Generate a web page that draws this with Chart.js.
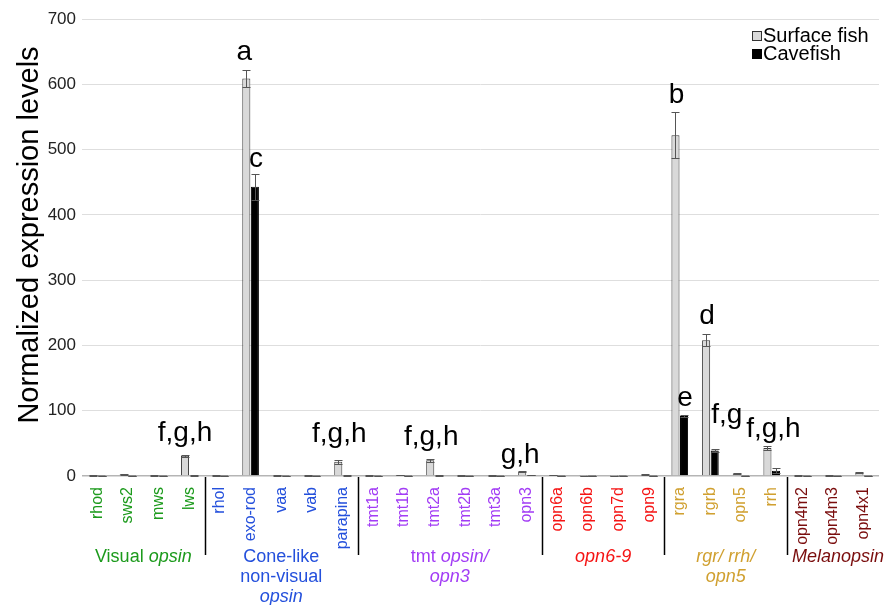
<!DOCTYPE html>
<html>
<head>
<meta charset="utf-8">
<script src="https://cdn.jsdelivr.net/npm/chart.js@4.4.0/dist/chart.umd.min.js"></script>
<style>
  html, body { margin: 0; padding: 0; background: #ffffff; }
  #wrap { width: 886px; height: 605px; }
</style>
</head>
<body>
<div id="wrap"><canvas id="c" width="886" height="605"></canvas></div>
<script>
// Opsin genes, grouped by family along the x axis
const categories = [
  'rhod', 'sws2', 'mws', 'lws',
  'rhol', 'exo-rod', 'vaa', 'vab', 'parapina',
  'tmt1a', 'tmt1b', 'tmt2a', 'tmt2b', 'tmt3a', 'opn3',
  'opn6a', 'opn6b', 'opn7d', 'opn9',
  'rgra', 'rgrb', 'opn5', 'rrh',
  'opn4m2', 'opn4m3', 'opn4x1'
];

// Normalized expression levels (mean) and error (±)
const surfaceFish    = [0.8, 2.5, 1, 31, 0.8, 609, 1, 1, 22, 1, 1.5, 24, 1, 1, 6.5, 1.2, 0.5, 0.5, 2, 522, 208, 4, 43, 1, 1, 5.5];
const surfaceFishErr = [0.3, 0.8, 0.3, 1.5, 0.3, 13, 0.3, 0.3, 3, 0.3, 0.5, 2, 0.3, 0.3, 1, 0.3, 0.2, 0.2, 0.5, 35, 9, 1, 2.5, 0.3, 0.3, 1];
const cavefish       = [0.5, 0.5, 0.5, 1, 0.5, 443, 0.5, 0.5, 1, 0.5, 0.5, 1, 0.5, 0.5, 1.5, 0.5, 0.5, 0.5, 0.5, 92, 39, 0.5, 8, 0.5, 0.5, 0.5];
const cavefishErr    = [0.2, 0.2, 0.2, 0.3, 0.2, 20, 0.2, 0.2, 0.3, 0.2, 0.2, 0.3, 0.2, 0.2, 0.5, 0.2, 0.2, 0.2, 0.2, 1, 2, 0.2, 4, 0.2, 0.2, 0.2];

const yTicks = [0, 100, 200, 300, 400, 500, 600, 700];

// Gene families: index range, colour and (rich) label lines [text, italic]
const groups = [
  { first: 0,  last: 3,  color: '#1c9a1c', lines: [[['Visual ', false], ['opsin', true]]] },
  { first: 4,  last: 8,  color: '#2450dc', lines: [[['Cone-like', false]], [['non-visual', false]], [['opsin', true]]] },
  { first: 9,  last: 14, color: '#a23cf5', lines: [[['tmt ', false], ['opsin/', true]], [['opn3', true]]] },
  { first: 15, last: 18, color: '#f51414', lines: [[['opn6-9', true]]] },
  { first: 19, last: 22, color: '#d0a030', lines: [[['rgr/ rrh/', true]], [['opn5', true]]] },
  { first: 23, last: 25, color: '#7a0d0d', lines: [[['Melanopsin', true]]], shift: 5 }
];

// Significance letters: gene, series (0 surface, 1 cave), text, lift above bar/error top, x shift
const letters = [
  { gene: 'lws',      series: 0, text: 'f,g,h', lift: 14, dx: 0 },
  { gene: 'exo-rod',  series: 0, text: 'a',     lift: 10, dx: -2 },
  { gene: 'exo-rod',  series: 1, text: 'c',     lift: 7,  dx: 1 },
  { gene: 'parapina', series: 0, text: 'f,g,h', lift: 18, dx: 1 },
  { gene: 'tmt2a',    series: 0, text: 'f,g,h', lift: 14, dx: 1 },
  { gene: 'opn3',     series: 0, text: 'g,h',   lift: 8,  dx: -2 },
  { gene: 'rgra',     series: 0, text: 'b',     lift: 9,  dx: 1 },
  { gene: 'rgra',     series: 1, text: 'e',     lift: 9,  dx: 1 },
  { gene: 'rgrb',     series: 0, text: 'd',     lift: 10, dx: 1 },
  { gene: 'rgrb',     series: 1, text: 'f,g',   lift: 26, dx: 12 },
  { gene: 'rrh',      series: 0, text: 'f,g,h', lift: 9,  dx: 6 }
];

const FONT = '"Liberation Sans", Arial, Helvetica, sans-serif';
const errors = [surfaceFishErr, cavefishErr];

function groupColor(i) {
  const g = groups.find(gr => i >= gr.first && i <= gr.last);
  return g ? g.color : '#000';
}

// Error bars with caps
const errorBars = {
  id: 'errorBars',
  afterDatasetsDraw(chart) {
    const ctx = chart.ctx, y = chart.scales.y;
    ctx.save();
    ctx.strokeStyle = '#555';
    ctx.lineWidth = 1;
    chart.data.datasets.forEach((ds, di) => {
      const meta = chart.getDatasetMeta(di);
      meta.data.forEach((bar, i) => {
        const v = ds.data[i], e = errors[di][i];
        const yt = Math.round(y.getPixelForValue(v + e)) + 0.5;
        const yb = Math.round(y.getPixelForValue(Math.max(0, v - e))) + 0.5;
        const x = Math.round(bar.x) + 0.5;
        ctx.beginPath();
        ctx.moveTo(x, yt); ctx.lineTo(x, yb);
        ctx.moveTo(x - 4, yt); ctx.lineTo(x + 4, yt);
        ctx.moveTo(x - 4, yb); ctx.lineTo(x + 4, yb);
        ctx.stroke();
      });
    });
    ctx.restore();
  }
};

// Letters above bars
const sigLetters = {
  id: 'sigLetters',
  afterDatasetsDraw(chart) {
    const ctx = chart.ctx, y = chart.scales.y;
    ctx.save();
    ctx.fillStyle = '#000';
    ctx.font = '28px ' + FONT;
    ctx.textAlign = 'center';
    ctx.textBaseline = 'alphabetic';
    letters.forEach(l => {
      const i = categories.indexOf(l.gene);
      const bar = chart.getDatasetMeta(l.series).data[i];
      const v = chart.data.datasets[l.series].data[i] + errors[l.series][i];
      ctx.fillText(l.text, bar.x + l.dx, y.getPixelForValue(v) - l.lift);
    });
    ctx.restore();
  }
};

// Axis title, family separators and family names below the gene labels
const familyLabels = {
  id: 'familyLabels',
  afterDraw(chart) {
    const ctx = chart.ctx, x = chart.scales.x, area = chart.chartArea;
    const step = x.getPixelForValue(1) - x.getPixelForValue(0);
    ctx.save();
    ctx.translate(30, 235);
    ctx.rotate(-Math.PI / 2);
    ctx.font = '29px ' + FONT;
    ctx.fillStyle = '#000';
    ctx.textAlign = 'center';
    ctx.textBaseline = 'middle';
    ctx.fillText('Normalized expression levels', 0, 0);
    ctx.restore();

    ctx.save();
    ctx.strokeStyle = '#000';
    ctx.lineWidth = 1.5;
    groups.forEach((g, gi) => {
      if (gi > 0) {
        const sx = Math.round(x.getPixelForValue(g.first) - step / 2) + 0.5;
        ctx.beginPath();
        ctx.moveTo(sx, area.bottom + 1);
        ctx.lineTo(sx, area.bottom + 79);
        ctx.stroke();
      }
      const cx = (x.getPixelForValue(g.first) + x.getPixelForValue(g.last)) / 2 + (g.shift || 0);
      ctx.fillStyle = g.color;
      ctx.textBaseline = 'middle';
      ctx.textAlign = 'left';
      g.lines.forEach((line, li) => {
        const fonts = line.map(s => (s[1] ? 'italic ' : '') + '18px ' + FONT);
        let total = 0;
        const widths = line.map((s, si) => { ctx.font = fonts[si]; const w = ctx.measureText(s[0]).width; total += w; return w; });
        let px = cx - total / 2;
        const py = area.bottom + 81 + li * 20;
        line.forEach((s, si) => { ctx.font = fonts[si]; ctx.fillText(s[0], px, py); px += widths[si]; });
      });
    });
    ctx.restore();
  }
};

// Legend in the upper right corner
const cornerLegend = {
  id: 'cornerLegend',
  afterDraw(chart) {
    const ctx = chart.ctx;
    const items = [
      { label: 'Surface fish', fill: '#d9d9d9', stroke: '#333' },
      { label: 'Cavefish', fill: '#000', stroke: '#000' }
    ];
    ctx.save();
    ctx.font = '20px ' + FONT;
    ctx.textBaseline = 'middle';
    ctx.textAlign = 'left';
    items.forEach((it, k) => {
      const ty = 36 + k * 18;
      ctx.fillStyle = it.fill;
      ctx.fillRect(752, ty - 5, 10, 10);
      ctx.strokeStyle = it.stroke;
      ctx.lineWidth = 1;
      ctx.strokeRect(752.5, ty - 4.5, 9, 9);
      ctx.fillStyle = '#000';
      ctx.fillText(it.label, 763, ty);
    });
    ctx.restore();
  }
};

new Chart(document.getElementById('c'), {
  type: 'bar',
  data: {
    labels: categories,
    datasets: [
      { label: 'Surface fish', data: surfaceFish, backgroundColor: '#d9d9d9', borderColor: '#3a3a3a', borderWidth: 1 },
      { label: 'Cavefish', data: cavefish, backgroundColor: '#000000', borderColor: '#000000', borderWidth: 1 }
    ]
  },
  options: {
    responsive: false,
    animation: false,
    events: [],
    layout: { padding: { top: 19, right: 6, left: 0, bottom: 0 } },
    datasets: { bar: { categoryPercentage: 0.56, barPercentage: 0.94 } },
    plugins: { legend: { display: false }, tooltip: { enabled: false } },
    scales: {
      x: {
        grid: { display: false },
        border: { display: false },
        ticks: {
          autoSkip: false,
          minRotation: 90,
          maxRotation: 90,
          padding: 3,
          font: { family: FONT, size: 16 },
          color: ctx => groupColor(ctx.index)
        },
        afterFit(scale) { scale.height = 129; }
      },
      y: {
        min: 0,
        max: 700,
        afterBuildTicks(scale) { scale.ticks = yTicks.map(v => ({ value: v })); },
        grid: {
          drawTicks: false,
          color: ctx => (ctx.tick && ctx.tick.value === 0 ? '#b5b5b5' : '#dedede'),
          lineWidth: ctx => (ctx.tick && ctx.tick.value === 0 ? 1.5 : 1)
        },
        border: { display: false },
        ticks: {
          padding: 6,
          font: { family: FONT, size: 17 },
          color: '#222'
        },
        title: { display: false },
        afterFit(scale) { scale.width = 82; }
      }
    }
  },
  plugins: [errorBars, sigLetters, familyLabels, cornerLegend]
});
</script>
</body>
</html>
